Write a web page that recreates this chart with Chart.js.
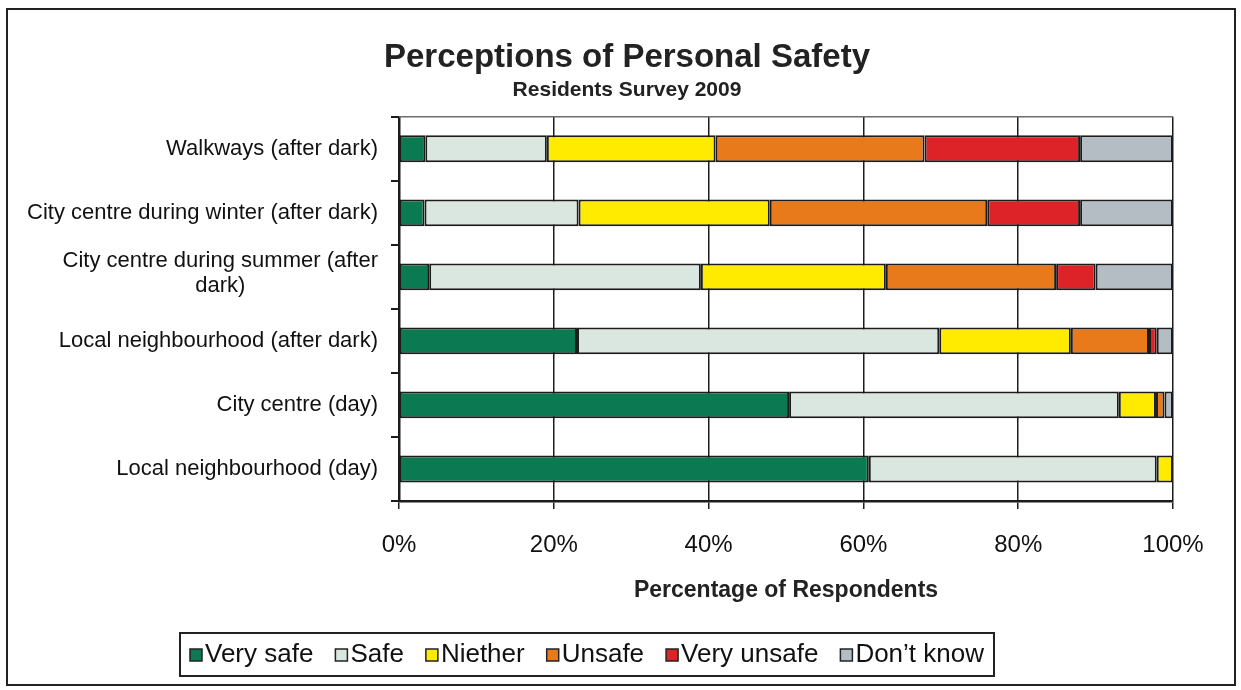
<!DOCTYPE html>
<html>
<head>
<meta charset="utf-8">
<script src="https://cdn.jsdelivr.net/npm/chart.js@4"></script>
<style>
  html, body { margin: 0; padding: 0; background: #fff; }
  #wrap { width: 1241px; height: 690px; position: relative; }
</style>
</head>
<body>
<div id="wrap"><canvas id="safetyChart" width="1241" height="690"></canvas></div>
<script>
// Categories (top to bottom)
const categories = [
  "Walkways (after dark)",
  "City centre during winter (after dark)",
  ["City centre during summer (after", "dark)"],
  "Local neighbourhood (after dark)",
  "City centre (day)",
  "Local neighbourhood (day)",
];

// Percentages per response
const verySafe   = [3.4, 3.3, 3.9, 23.0, 50.4, 60.7];
const safe       = [15.7, 19.9, 35.1, 46.8, 42.6, 37.2];
const niether    = [21.8, 24.7, 23.9, 17.0, 4.8, 2.1];
const unsafe     = [27.0, 28.1, 22.0, 10.1, 1.1, 0];
const veryUnsafe = [20.1, 12.0, 5.1, 1.0, 0, 0];
const dontKnow   = [12.0, 12.0, 10.0, 2.1, 1.1, 0];

const seriesNames = ["Very safe", "Safe", "Niether", "Unsafe", "Very unsafe", "Don\u2019t know"];
const seriesColors = ["#0b7a52", "#dae6e0", "#ffeb00", "#e97a1c", "#dd2228", "#b4bdc4"];
const xTicks = [0, 20, 40, 60, 80, 100];

const FONT = "'Liberation Sans', Arial, Helvetica, sans-serif";

// cornice esterna + sfondo
const framePlugin = {
  id: "frame",
  beforeDraw(chart) {
    const ctx = chart.ctx;
    ctx.save();
    ctx.fillStyle = "#fff";
    ctx.fillRect(0, 0, chart.width, chart.height);
    ctx.strokeStyle = "#222";
    ctx.lineWidth = 2;
    ctx.strokeRect(7, 9, 1228, 676);
    ctx.restore();
  },
  afterDraw(chart) {
    const ctx = chart.ctx;
    const yScale = chart.scales.y;
    const area = chart.chartArea;
    ctx.save();
    // bordo superiore area grafico
    ctx.strokeStyle = "#6a6f6c";
    ctx.lineWidth = 1.5;
    ctx.beginPath();
    ctx.moveTo(area.left, area.top);
    ctx.lineTo(area.right, area.top);
    ctx.stroke();

    // etichette categorie (multi-riga centrate)
    ctx.fillStyle = "#111";
    ctx.font = "22px " + FONT;
    ctx.textBaseline = "middle";
    const right = area.left - 21;
    const lineH = 25;
    chart.data.labels.forEach((lab, i) => {
      const lines = Array.isArray(lab) ? lab : [lab];
      const y = yScale.getPixelForValue(i);
      const maxW = Math.max(...lines.map((l) => ctx.measureText(l).width));
      const y0 = y - ((lines.length - 1) * lineH) / 2 - (lines.length > 1 ? 3 : 0);
      lines.forEach((l, j) => {
        if (lines.length > 1) {
          ctx.textAlign = "center";
          ctx.fillText(l, right - maxW / 2, y0 + j * lineH);
        } else {
          ctx.textAlign = "right";
          ctx.fillText(l, right, y0);
        }
      });
    });

    // legenda con riquadro
    ctx.font = "26px " + FONT;
    const box = 12, gap = 3, spacing = 22;
    const items = chart.data.datasets.map((ds) => ({
      text: ds.label,
      color: ds.backgroundColor,
      w: ctx.measureText(ds.label).width,
    }));
    const total = items.reduce((s, it) => s + box + gap + it.w, 0) + spacing * (items.length - 1);
    const cx = 587, cy = 654;
    let x = cx - total / 2;
    ctx.strokeStyle = "#222";
    ctx.lineWidth = 2;
    ctx.strokeRect(cx - total / 2 - 10, 633, total + 20, 43);
    ctx.textAlign = "left";
    ctx.textBaseline = "middle";
    items.forEach((it) => {
      ctx.fillStyle = it.color;
      ctx.fillRect(x, cy - box / 2 + 1, box, box);
      ctx.lineWidth = 1.5;
      ctx.strokeStyle = "#222";
      ctx.strokeRect(x, cy - box / 2 + 1, box, box);
      ctx.fillStyle = "#111";
      ctx.fillText(it.text, x + box + gap, cy + 1);
      x += box + gap + it.w + spacing;
    });
    ctx.restore();
  },
};

const seriesData = [verySafe, safe, niether, unsafe, veryUnsafe, dontKnow];

new Chart(document.getElementById("safetyChart"), {
  type: "bar",
  data: {
    labels: categories,
    datasets: seriesData.map((d, i) => ({
      label: seriesNames[i],
      data: d,
      backgroundColor: seriesColors[i],
      borderColor: "#1c1c1c",
      borderWidth: 2,
      borderSkipped: false,
      barPercentage: 0.42,
      categoryPercentage: 1,
    })),
  },
  options: {
    indexAxis: "y",
    responsive: false,
    animation: false,
    layout: { padding: { left: 81, right: 68, top: 23, bottom: 91 } },
    plugins: {
      legend: { display: false },
      tooltip: { enabled: false },
      title: {
        display: true,
        text: "Perceptions of Personal Safety",
        color: "#222",
        font: { family: FONT, size: 33, weight: "bold" },
        padding: { top: 15, bottom: 0 },
      },
      subtitle: {
        display: true,
        text: "Residents Survey 2009",
        color: "#222",
        font: { family: FONT, size: 21, weight: "bold" },
        padding: { top: 0, bottom: 14 },
      },
    },
    scales: {
      x: {
        stacked: true,
        min: 0,
        max: 100,
        afterBuildTicks: (scale) => {
          scale.ticks = xTicks.map((v) => ({ value: v }));
        },
        ticks: {
          callback: (v) => v + "%",
          color: "#111",
          font: { family: FONT, size: 24 },
          padding: 22,
          maxRotation: 0,
        },
        grid: {
          color: "#1c1c1c",
          lineWidth: 1.5,
          drawTicks: true,
          tickLength: 8,
        },
        border: { display: true, color: "#1c1c1c", width: 2.5 },
        title: {
          display: true,
          text: "Percentage of Respondents",
          color: "#222",
          font: { family: FONT, size: 23, weight: "bold", lineHeight: 0.75 },
          padding: { top: 0, bottom: 0 },
        },
      },
      y: {
        stacked: true,
        ticks: { display: false },
        grid: {
          offset: true,
          drawOnChartArea: false,
          drawTicks: true,
          tickLength: 8,
          color: "#1c1c1c",
          lineWidth: 2,
        },
        border: { display: true, color: "#1c1c1c", width: 2.5 },
        afterFit: (scale) => {
          scale.width = 318;
        },
      },
    },
  },
  plugins: [framePlugin],
});
</script>
</body>
</html>
